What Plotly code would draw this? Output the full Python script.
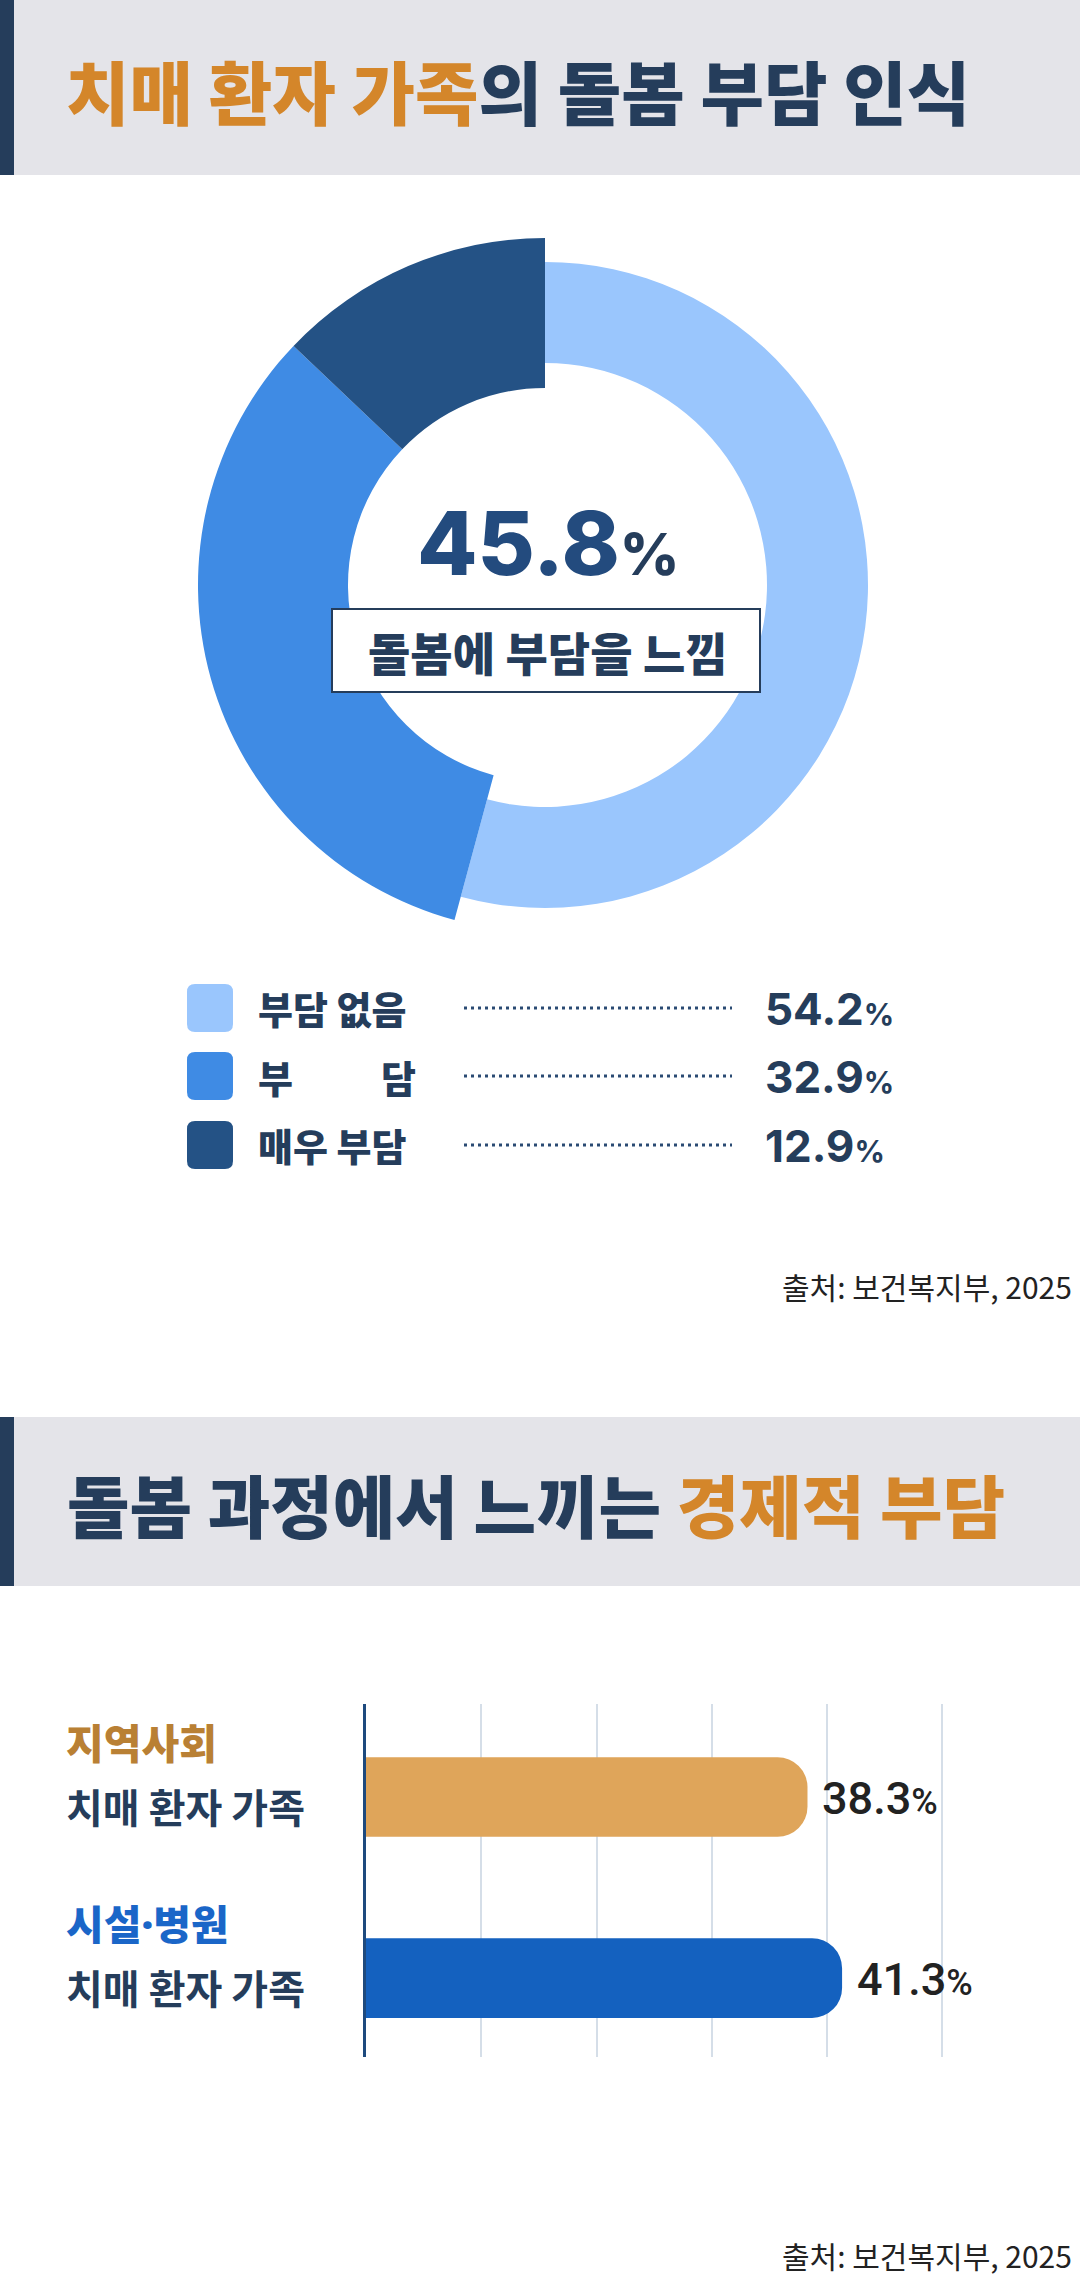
import plotly.graph_objects as go

W, H = 1080, 2291

# ---------------- data ----------------
title1_hl = "치매 환자 가족"
title1_rest = "의 돌봄 부담 인식"
donut_labels = ["부담 없음", "부담", "매우 부담"]
donut_values = [54.2, 32.9, 12.9]
donut_colors = ["#9AC6FD", "#3F8BE4", "#245285"]
center_caption = "돌봄에 부담을 느낌"
source_text = "출처: 보건복지부, 2025"

title2_rest = "돌봄 과정에서 느끼는 "
title2_hl = "경제적 부담"
bar_groups = ["지역사회", "시설·병원"]
bar_subtitles = ["치매 환자 가족", "치매 환자 가족"]
bar_values = [38.3, 41.3]
bar_colors = ["#DFA55A", "#1461BF"]
group_label_colors = ["#B98034", "#1A66C8"]
grid_ticks = [10, 20, 30, 40, 50]

NAVY = "#253D5B"
ORANGE = "#D4862A"
FONT = "Noto Sans CJK KR"
NUMFONT = "Inter"


def px(x):
    return x / W


def py(y):
    return 1 - y / H


fig = go.Figure()
shapes = []
ann = []

# ---------------- headers ----------------
for (y0, y1) in [(0, 175), (1417, 1586)]:
    shapes.append(dict(type="rect", xref="paper", yref="paper", x0=0, x1=1,
                       y0=py(y1), y1=py(y0), fillcolor="#E4E4E9", line_width=0, layer="below"))
    shapes.append(dict(type="rect", xref="paper", yref="paper", x0=0, x1=px(14),
                       y0=py(y1), y1=py(y0), fillcolor=NAVY, line_width=0, layer="below"))

ann.append(dict(xref="paper", yref="paper", x=px(64), y=py(90), xanchor="left", yanchor="middle",
                text=f"<span style='color:{ORANGE}'>{title1_hl}</span>{title1_rest}",
                showarrow=False, font=dict(family=FONT, size=69, color=NAVY, weight=900)))
ann.append(dict(xref="paper", yref="paper", x=px(65), y=py(1503), xanchor="left", yanchor="middle",
                text=f"{title2_rest}<span style='color:{ORANGE}'>{title2_hl}</span>",
                showarrow=False, font=dict(family=FONT, size=68, color=NAVY, weight=900)))

# ---------------- donut ----------------
CX, CY = 545, 585
TRANSP = "rgba(0,0,0,0)"


def ring(r_out, r_in, colors):
    return go.Pie(
        labels=donut_labels, values=donut_values, sort=False, direction="clockwise",
        rotation=0, hole=r_in / r_out, textinfo="none", hoverinfo="skip",
        showlegend=False, marker=dict(colors=colors, line=dict(width=0)),
        domain=dict(x=[px(CX - r_out), px(CX + r_out)], y=[py(CY + r_out), py(CY - r_out)]),
    )


fig.add_trace(ring(323, 222, [donut_colors[0], TRANSP, TRANSP]))
fig.add_trace(ring(347, 197, [TRANSP, donut_colors[1], donut_colors[2]]))

burden_total = round(donut_values[1] + donut_values[2], 1)
ann.append(dict(xref="paper", yref="paper", x=px(548), y=py(543), xanchor="center", yanchor="middle",
                text=f"{burden_total}<span style='font-size:58px;color:{NAVY}'>%</span>",
                showarrow=False, font=dict(family=NUMFONT, size=88, color="#234B7E", weight=800)))
shapes.append(dict(type="rect", xref="paper", yref="paper", x0=px(332), x1=px(760),
                   y0=py(692), y1=py(609), fillcolor="white", line=dict(color=NAVY, width=2)))
ann.append(dict(xref="paper", yref="paper", x=px(548), y=py(651), xanchor="center", yanchor="middle",
                text=center_caption, showarrow=False,
                font=dict(family=FONT, size=46, color=NAVY, weight=900)))

# ---------------- legend ----------------
row_y = [1008, 1076, 1145]


def rrect(x0, y0, x1, y1, r):
    pts = (f"M {px(x0 + r)},{py(y0)} L {px(x1 - r)},{py(y0)} Q {px(x1)},{py(y0)} {px(x1)},{py(y0 + r)} "
           f"L {px(x1)},{py(y1 - r)} Q {px(x1)},{py(y1)} {px(x1 - r)},{py(y1)} "
           f"L {px(x0 + r)},{py(y1)} Q {px(x0)},{py(y1)} {px(x0)},{py(y1 - r)} "
           f"L {px(x0)},{py(y0 + r)} Q {px(x0)},{py(y0)} {px(x0 + r)},{py(y0)} Z")
    return pts


for i, (lab, val, col) in enumerate(zip(donut_labels, donut_values, donut_colors)):
    yc = row_y[i]
    shapes.append(dict(type="path", xref="paper", yref="paper", path=rrect(187, yc - 24, 233, yc + 24, 8),
                       fillcolor=col, line_width=0))
    lf = dict(family=FONT, size=38, color=NAVY, weight=900)
    chars = lab.replace(" ", "")
    if len(chars) == 2:
        ann.append(dict(xref="paper", yref="paper", x=px(256), y=py(yc), xanchor="left", yanchor="middle",
                        text=chars[0], showarrow=False, font=lf))
        ann.append(dict(xref="paper", yref="paper", x=px(418), y=py(yc), xanchor="right", yanchor="middle",
                        text=chars[1], showarrow=False, font=lf))
    else:
        ann.append(dict(xref="paper", yref="paper", x=px(256), y=py(yc), xanchor="left", yanchor="middle",
                        text=lab, showarrow=False, font=lf))
    shapes.append(dict(type="line", xref="paper", yref="paper", x0=px(464), x1=px(732), y0=py(yc), y1=py(yc),
                       line=dict(color="#2A4A73", width=3, dash="3px,4px")))
    ann.append(dict(xref="paper", yref="paper", x=px(763), y=py(yc + 1), xanchor="left", yanchor="middle",
                    text=f"{val}<span style='font-size:30px'>%</span>", showarrow=False,
                    font=dict(family=NUMFONT, size=44, color=NAVY, weight=700)))

# ---------------- sources ----------------
for yc in [1286, 2255]:
    ann.append(dict(xref="paper", yref="paper", x=px(1074), y=py(yc), xanchor="right", yanchor="middle",
                    text=source_text, showarrow=False,
                    font=dict(family=FONT, size=30, color="#222222")))

# ---------------- bar chart ----------------
fig.add_trace(go.Bar(
    y=bar_groups, x=bar_values, orientation="h", width=0.44,
    marker=dict(color=bar_colors, line=dict(width=0), cornerradius=30),
    hoverinfo="skip", showlegend=False, xaxis="x", yaxis="y",
))


def group_text(g):
    # narrow middle dot (the CJK font draws it full-width)
    return g.replace("·", "<span style='font-family:Noto Sans'>·</span>")


for g, sub, v, gc in zip(bar_groups, bar_subtitles, bar_values, group_label_colors):
    ann.append(dict(xref="paper", yref="y", x=px(64), y=g, yshift=56, xanchor="left", yanchor="middle",
                    text=group_text(g), showarrow=False, font=dict(family=FONT, size=41, color=gc, weight=900)))
    ann.append(dict(xref="paper", yref="y", x=px(64), y=g, yshift=-9, xanchor="left", yanchor="middle",
                    text=sub, showarrow=False, font=dict(family=FONT, size=40, color=NAVY, weight=700)))
    ann.append(dict(xref="x", yref="y", x=v, y=g, xshift=13, yshift=-1, xanchor="left", yanchor="middle",
                    text=f"{v}<span style='font-size:36px'>%</span>", showarrow=False,
                    font=dict(family="Roboto", size=45, color="#222222", weight=500)))

fig.update_layout(
    width=W, height=H, margin=dict(l=0, r=0, t=0, b=0),
    paper_bgcolor="white", plot_bgcolor="white",
    shapes=shapes, annotations=ann,
    xaxis=dict(domain=[px(366), px(1000)], range=[0, 55], tickvals=grid_ticks, showticklabels=False,
               showgrid=True, gridcolor="#D5DEE8", gridwidth=1.5, zeroline=False, showline=False,
               fixedrange=True),
    yaxis=dict(domain=[py(2057), py(1704)], range=[1.436, -0.514], type="category",
               categoryorder="array", categoryarray=bar_groups,
               showticklabels=False, showgrid=False, zeroline=False,
               showline=True, linecolor="#1E4A7E", linewidth=3, fixedrange=True),
)

fig.write_html("out.html", config={"displayModeBar": False},
               post_script="document.body.style.margin='0';")
